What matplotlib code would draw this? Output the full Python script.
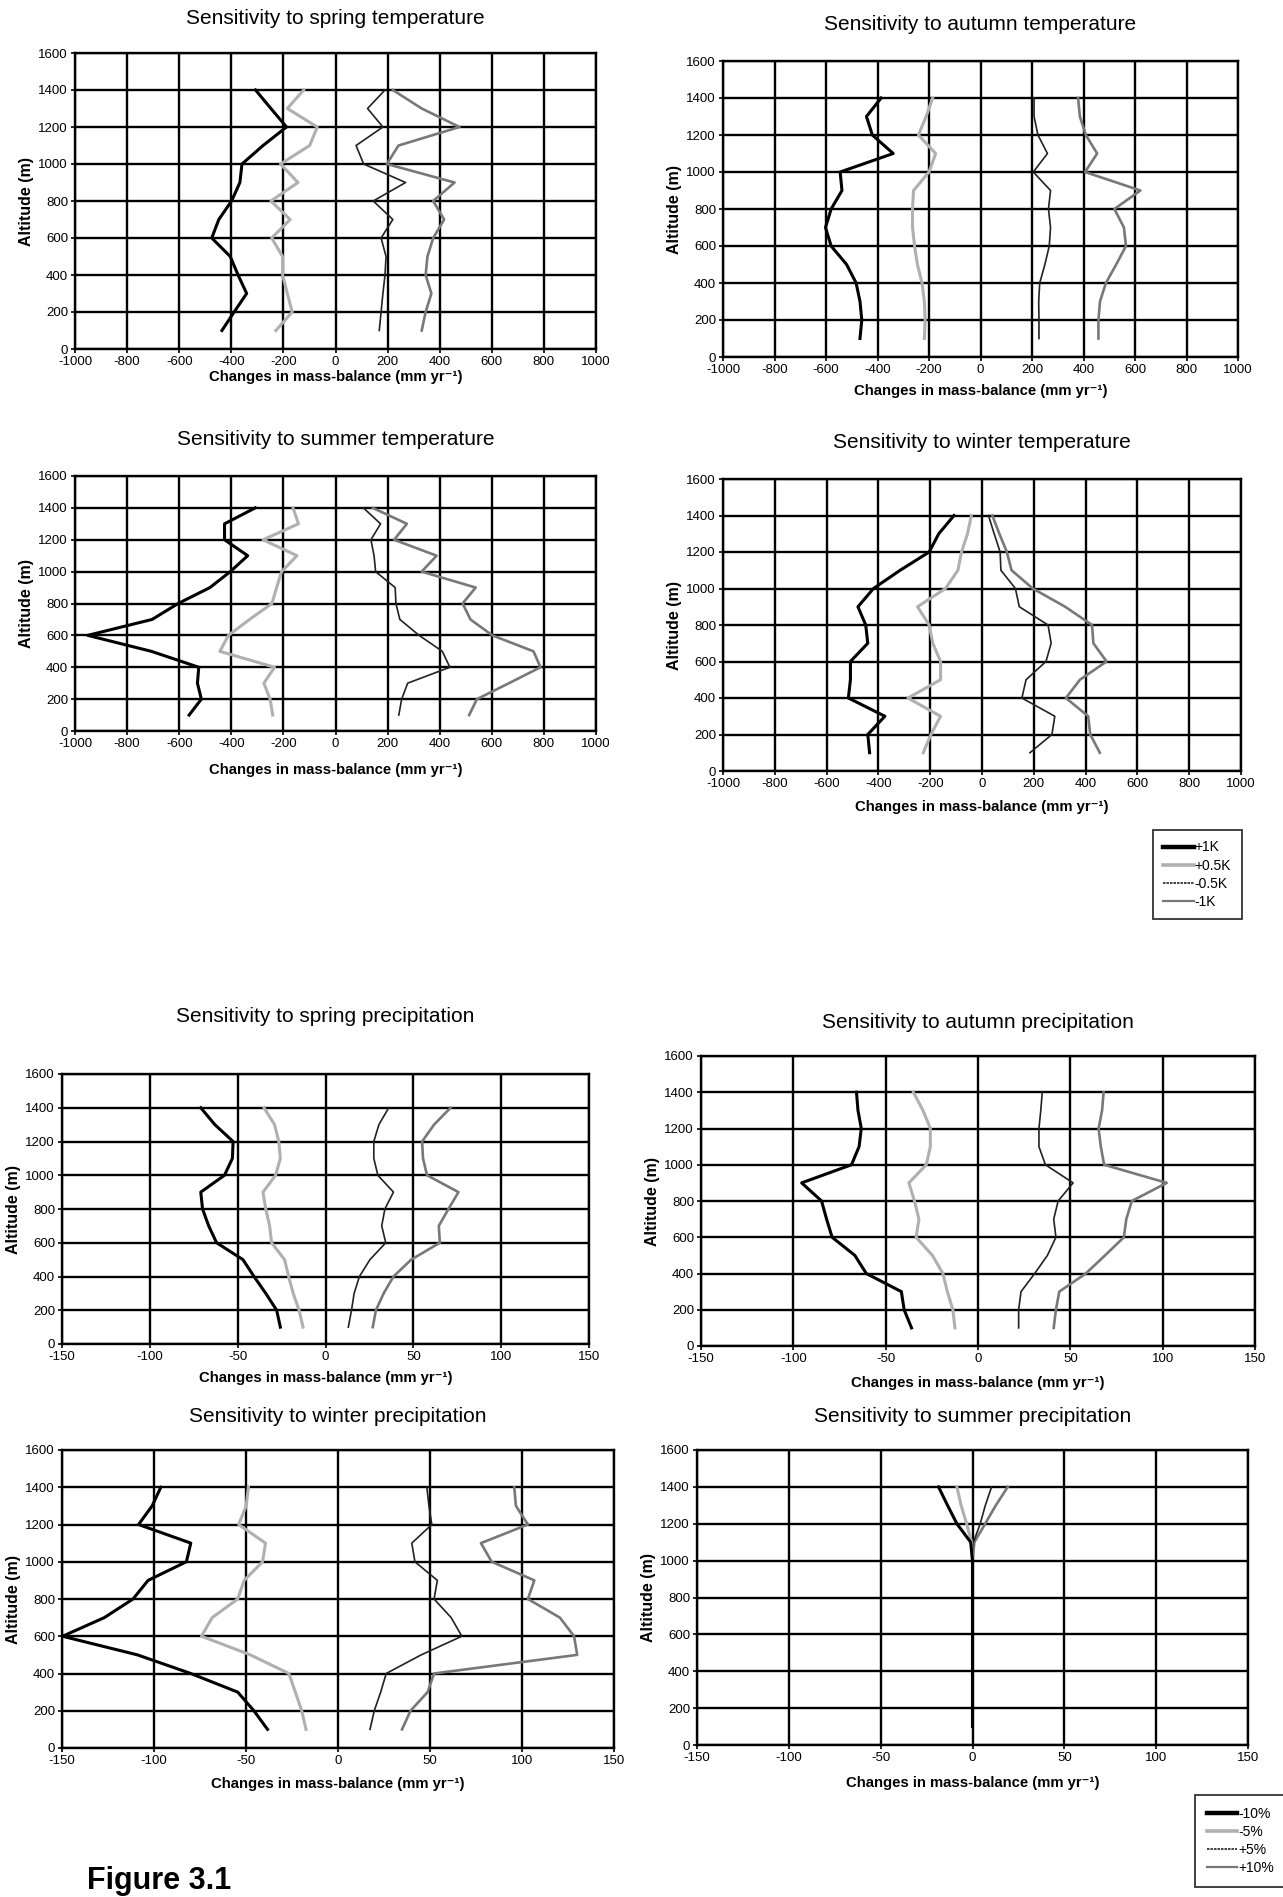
import numpy as np
import matplotlib
matplotlib.use("Agg")
from matplotlib import pyplot as plt
from matplotlib.lines import Line2D

plt.rcParams['font.family'] = ['Liberation Sans', 'DejaVu Sans']
plt.rcParams['axes.unicode_minus'] = False

# Altitude bands (m)
alt = [100, 200, 300, 400, 500, 600, 700, 800, 900, 1000, 1100, 1200, 1300, 1400]

# Temperature sensitivity (mm/yr) for +1K, +0.5K, -0.5K, -1K
spring_t_p1 = [-436, -389, -341, -374, -404, -475, -448, -399, -367, -359, -278, -188, -248, -307]
spring_t_p05 = [-229, -166, -185, -203, -203, -245, -174, -248, -144, -211, -99, -70, -185, -122]
spring_t_m05 = [168, 175, 182, 190, 194, 175, 220, 145, 269, 108, 79, 182, 123, 190]
spring_t_m1 = [331, 346, 368, 346, 353, 375, 417, 375, 457, 197, 242, 476, 331, 220]

autumn_t_p1 = [-468, -461, -468, -483, -520, -580, -602, -580, -538, -545, -339, -420, -443, -386]
autumn_t_p05 = [-218, -215, -218, -227, -245, -256, -264, -264, -260, -200, -174, -241, -211, -186]
autumn_t_m05 = [227, 227, 226, 230, 250, 267, 272, 264, 272, 205, 260, 223, 208, 208]
autumn_t_m1 = [458, 458, 464, 487, 527, 565, 557, 520, 621, 406, 453, 409, 386, 379]

summer_t_p1 = [-562, -515, -530, -525, -707, -951, -704, -604, -482, -404, -337, -426, -426, -308]
summer_t_p05 = [-241, -251, -275, -234, -444, -411, -330, -244, -226, -207, -148, -278, -142, -163]
summer_t_m05 = [243, 254, 277, 439, 410, 321, 247, 232, 229, 154, 148, 136, 173, 107]
summer_t_m1 = [513, 543, 666, 787, 760, 602, 518, 488, 538, 331, 388, 225, 274, 143]

winter_t_p1 = [-434, -441, -375, -516, -508, -508, -441, -449, -479, -419, -316, -204, -167, -108]
winter_t_p05 = [-227, -197, -160, -286, -160, -160, -190, -204, -249, -141, -93, -79, -56, -41]
winter_t_m05 = [185, 270, 281, 154, 170, 247, 267, 255, 144, 129, 73, 70, 47, 25]
winter_t_m1 = [455, 418, 410, 324, 378, 481, 430, 425, 321, 196, 114, 96, 67, 40]

# Precipitation sensitivity (mm/yr) for -10%, -5%, +5%, +10%
spring_p_m10 = [-25.7, -27.8, -34, -40.7, -47, -62, -66.5, -70, -71, -57.5, -53, -52.6, -63, -71]
spring_p_m5 = [-12.8, -15, -18.4, -21, -23.3, -30.7, -31.8, -34, -35.6, -28.4, -25.7, -26.6, -29, -35]
spring_p_p5 = [13, 14.8, 16.3, 19.3, 25.3, 34.3, 32, 33.8, 38.7, 29.8, 27.5, 27.5, 30.4, 36]
spring_p_p10 = [26.9, 28.7, 33.1, 38.7, 48.8, 65.1, 64.5, 70, 75.7, 57.8, 55.5, 55, 61.8, 71.2]

autumn_p_m10 = [-36, -40, -41.5, -60.5, -66.7, -79, -82, -84.7, -95.5, -68.5, -64.4, -63.2, -65, -65.8]
autumn_p_m5 = [-12.5, -13.6, -16.6, -19, -24.7, -33.5, -32, -34.4, -37.4, -28, -25.8, -25.8, -29.8, -35]
autumn_p_p5 = [22, 22, 23.3, 30.7, 37.6, 42.2, 41, 43.4, 51.5, 36.5, 33, 33, 34, 34.8]
autumn_p_p10 = [41, 42.2, 44, 58.4, 68.8, 79, 80.3, 83.3, 102.2, 68.3, 66.5, 65.3, 67.2, 68]

winter_p_m10 = [-38.3, -45.7, -54.5, -80, -109, -149.7, -127, -111.4, -103.2, -82.4, -80, -108.4, -101, -96.3]
winter_p_m5 = [-17.4, -19.7, -23.2, -26.7, -47.6, -74.2, -68.4, -54.5, -51, -41, -39.4, -54, -49.9, -48.7]
winter_p_p5 = [17.4, 19.7, 23.2, 26.2, 45.2, 67.3, 61.5, 52.2, 54, 41.8, 40.1, 51, 49.4, 48.3]
winter_p_p10 = [34.8, 39.4, 48.7, 52.2, 130, 128.3, 120.6, 103.2, 106.7, 83.5, 77.7, 103.2, 96.7, 95.8]

summer_p_m10 = [0, 0, 0, 0, 0, 0, 0, 0, 0, 0, -1, -8.5, -13.6, -18.5]
summer_p_m5 = [0, 0, 0, 0, 0, 0, 0, 0, 0, 0, -0.5, -3.2, -6.2, -8.5]
summer_p_p5 = [0, 0, 0, 0, 0, 0, 0, 0, 0, 0, 0.5, 4.2, 7, 10.4]
summer_p_p10 = [0, 0, 0, 0, 0, 0, 0, 0, 0, 0, 1, 6.9, 12.7, 19.2]

temp_labels = ['+1K', '+0.5K', '-0.5K', '-1K']
precip_labels = ['-10%', '-5%', '+5%', '+10%']

# Line styles shared by both groups (strong warm/dry -> strong cold/wet)
STYLES = [
    dict(color='black', lw=2.2),
    dict(color='#b0b0b0', lw=2.2),
    dict(color='#222222', lw=1.2),
    dict(color='#787878', lw=1.9),
]
LEGEND_STYLES = [
    dict(color='black', lw=3.2),
    dict(color='#b0b0b0', lw=2.6),
    dict(color='#222222', lw=1.2, dashes=(1.5, 0.6)),
    dict(color='#787878', lw=1.6),
]

W, H = 1283, 1897
fig = plt.figure(figsize=(W / 100, H / 100), dpi=100)
XLABEL = 'Changes in mass-balance (mm yr\u207b\u00b9)'


def panel(box, xlim, xstep, title, title_y, xlabel_y, series):
    l, t, r, b = box
    ax = fig.add_axes([l / W, 1 - b / H, (r - l) / W, (b - t) / H])
    # draw weakest change first so the strongest one sits on top
    for vals, st in reversed(list(zip(series, STYLES))):
        ax.plot(vals, alt, **st)
    ax.set_xlim(xlim)
    ax.set_ylim(0, 1600)
    ax.set_xticks(np.arange(xlim[0], xlim[1] + 1, xstep))
    ax.set_yticks(np.arange(0, 1601, 200))
    ax.grid(True, color='black', lw=1.7)
    ax.set_axisbelow(True)
    for sp in ax.spines.values():
        sp.set_linewidth(1.7)
    ax.tick_params(direction='out', length=3, width=1.2, labelsize=9.5, pad=2)
    ax.set_ylabel('Altitude (m)', fontsize=11.5, fontweight='bold', labelpad=3)
    cx = (l + r) / 2 / W
    fig.text(cx, 1 - title_y / H, title, ha='center', va='center', fontsize=15)
    fig.text(cx, 1 - xlabel_y / H, XLABEL, ha='center', va='center',
             fontsize=10.7, fontweight='bold')
    return ax


panel((75, 53, 596, 349), (-1000, 1000), 200, 'Sensitivity to spring temperature', 18, 377,
      [spring_t_p1, spring_t_p05, spring_t_m05, spring_t_m1])
panel((723, 61, 1238, 357), (-1000, 1000), 200, 'Sensitivity to autumn temperature', 24, 391,
      [autumn_t_p1, autumn_t_p05, autumn_t_m05, autumn_t_m1])
panel((75, 476, 596, 731), (-1000, 1000), 200, 'Sensitivity to summer temperature', 439, 770,
      [summer_t_p1, summer_t_p05, summer_t_m05, summer_t_m1])
panel((723, 479, 1241, 771), (-1000, 1000), 200, 'Sensitivity to winter temperature', 443, 807,
      [winter_t_p1, winter_t_p05, winter_t_m05, winter_t_m1])

panel((62, 1074, 589, 1344), (-150, 150), 50, 'Sensitivity to spring precipitation', 1017, 1378,
      [spring_p_m10, spring_p_m5, spring_p_p5, spring_p_p10])
panel((701, 1056, 1255, 1346), (-150, 150), 50, 'Sensitivity to autumn precipitation', 1022, 1383,
      [autumn_p_m10, autumn_p_m5, autumn_p_p5, autumn_p_p10])
panel((62, 1450, 614, 1748), (-150, 150), 50, 'Sensitivity to winter precipitation', 1416, 1784,
      [winter_p_m10, winter_p_m5, winter_p_p5, winter_p_p10])
panel((697, 1450, 1248, 1745), (-150, 150), 50, 'Sensitivity to summer precipitation', 1416, 1783,
      [summer_p_m10, summer_p_m5, summer_p_p5, summer_p_p10])


def legend_box(labels, x, y, pad):
    handles = [Line2D([], [], **st) for st in LEGEND_STYLES]
    leg = fig.legend(handles, labels, loc='upper left', bbox_to_anchor=(x / W, 1 - y / H),
                     frameon=True, fancybox=False, edgecolor='black', fontsize=10,
                     handlelength=2.2, handletextpad=0.05, labelspacing=0.3,
                     borderpad=pad, borderaxespad=0)
    leg.get_frame().set_linewidth(1.3)


legend_box(temp_labels, 1153, 830, 0.75)
legend_box(precip_labels, 1195, 1795, 0.85)

fig.text(87 / W, 1 - 1889 / H, 'Figure 3.1', fontsize=22, fontweight='bold', va='baseline')

fig.savefig('out.png', dpi=100)
